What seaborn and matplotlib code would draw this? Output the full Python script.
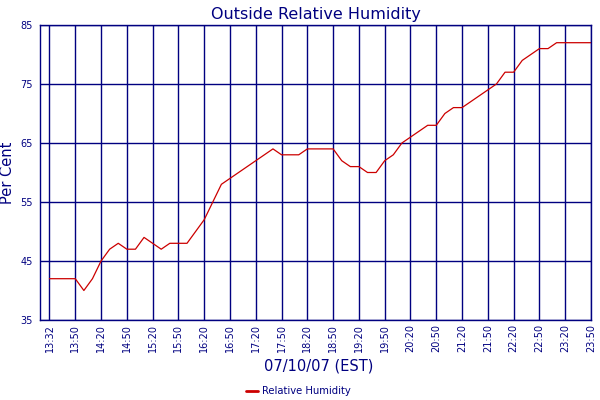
import pandas as pd
import seaborn as sns
import matplotlib
matplotlib.use("Agg")
import matplotlib.pyplot as plt

# humidity readings, evenly spaced samples from 13:32 to 23:50
humidity = [42, 42, 42, 42, 40, 42, 45, 47, 48, 47,
            47, 49, 48, 47, 48, 48, 48, 50, 52, 55,
            58, 59, 60, 61, 62, 63, 64, 63, 63, 63,
            64, 64, 64, 64, 62, 61, 61, 60, 60, 62,
            63, 65, 66, 67, 68, 68, 70, 71, 71, 72,
            73, 74, 75, 77, 77, 79, 80, 81, 81, 82,
            82, 82, 82, 82]
tick_pos = [0] + list(range(3, 64, 3))
tick_labels = ["13:32", "13:50", "14:20", "14:50", "15:20", "15:50", "16:20",
               "16:50", "17:20", "17:50", "18:20", "18:50", "19:20", "19:50",
               "20:20", "20:50", "21:20", "21:50", "22:20", "22:50", "23:20",
               "23:50"]
y_ticks = [35, 45, 55, 65, 75, 85]

navy = "#000080"
df = pd.DataFrame({"idx": range(len(humidity)), "Relative Humidity": humidity})

sns.set_style("white")
plt.rcParams['font.family'] = ['DejaVu Sans']

fig = plt.figure(figsize=(6, 4), dpi=100)
ax = fig.add_axes([0.067, 0.2, 0.918, 0.7375])

sns.lineplot(data=df, x="idx", y="Relative Humidity", color="#cc0000",
             linewidth=0.9, ax=ax, label="Relative Humidity")

ax.set_xlim(-1.08, 63)
ax.set_ylim(35, 85)
ax.set_xticks(tick_pos)
ax.set_xticklabels(tick_labels, rotation=90, fontsize=7, color=navy)
ax.set_yticks(y_ticks)
ax.set_yticklabels([str(v) for v in y_ticks], fontsize=7, color=navy)
ax.tick_params(axis="x", length=0, pad=3)
ax.tick_params(axis="y", length=0, pad=5.5)
ax.grid(True, color=navy, linewidth=1.0)
ax.set_axisbelow(True)
for s in ax.spines.values():
    s.set_color(navy)
    s.set_linewidth(1.0)

ax.set_title("Outside Relative Humidity", fontsize=11.5, color=navy, pad=4)
ax.set_xlabel("07/10/07 (EST)", fontsize=10.5, color=navy)
ax.xaxis.set_label_coords(0.506, -0.132)
ax.set_ylabel("Per Cent", fontsize=10.5, color=navy)
ax.yaxis.set_label_coords(-0.046, 0.5)

leg = ax.legend(loc="center", bbox_to_anchor=(0.469, -0.241), frameon=False,
                fontsize=7.2, handlelength=1.2, handletextpad=0.4)
for t in leg.get_texts():
    t.set_color(navy)
for h in leg.get_lines():
    h.set_linewidth(2)

fig.savefig("out.png", dpi=100)
